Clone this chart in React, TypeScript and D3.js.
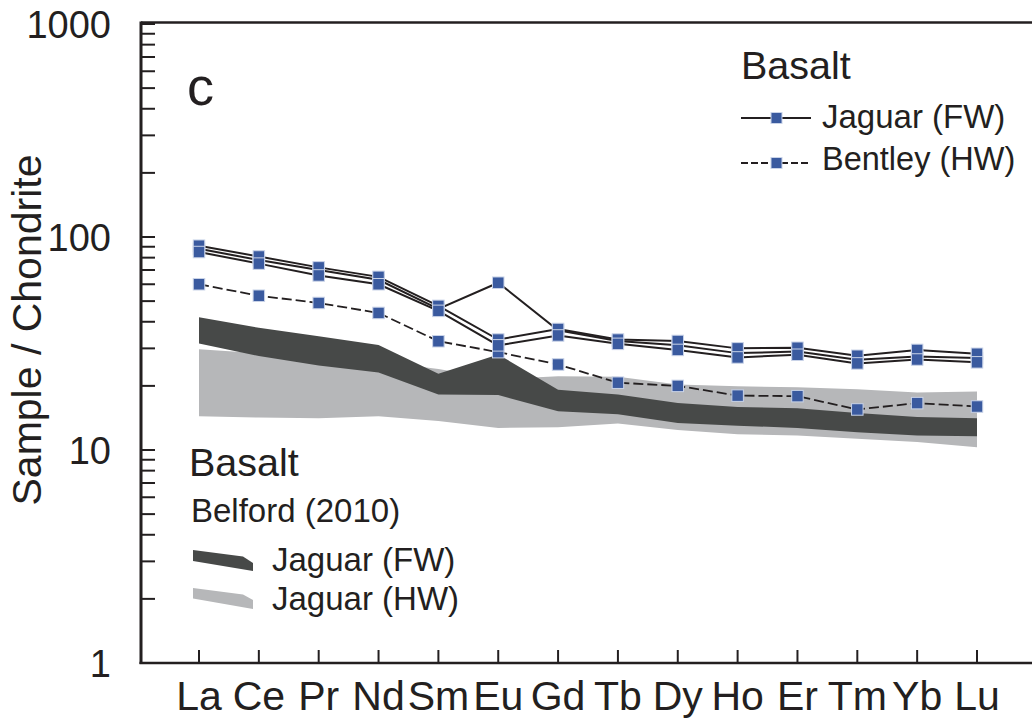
import React from "react";
import * as d3 from "d3";

// Rare earth elements along the x axis
const elements = ["La", "Ce", "Pr", "Nd", "Sm", "Eu", "Gd", "Tb", "Dy", "Ho", "Er", "Tm", "Yb", "Lu"];

// Chondrite-normalised basalt samples, Jaguar footwall (three samples)
const jaguarFW1 = [88, 78, 70, 63, 46, 61, 36.5, 32.5, 31, 28.5, 29, 26.5, 27.5, 27];
const jaguarFW2 = [91, 81, 72, 65, 47.5, 33, 37, 33, 32.5, 30, 30.2, 27.7, 29.5, 28.3];
const jaguarFW3 = [85, 75, 66, 60, 45, 31, 34.5, 31.5, 29.5, 27.2, 28, 25.5, 26.6, 25.8];

// Bentley hangingwall basalt
const bentleyHW = [60, 53, 49, 44, 32.4, 28.8, 25.2, 20.7, 20, 18, 17.9, 15.5, 16.6, 16];

// Belford (2010) envelopes
const belfordFWTop = [42, 37.5, 34.2, 31.1, 22.8, 28.1, 19.2, 18.2, 16.6, 15.9, 15.7, 14.9, 14.3, 14.1];
const belfordFWBottom = [31.6, 27.6, 24.9, 23.1, 18.2, 18.1, 15.2, 14.7, 13.4, 13.0, 12.7, 12.1, 11.7, 11.6];
const belfordHWTop = [29.7, 28.5, 27, 26, 24, 21.5, 22.2, 22.1, 20.3, 19.9, 19.7, 19.3, 18.6, 18.8];
const belfordHWBottom = [14.4, 14.2, 14.1, 14.4, 13.7, 12.7, 12.8, 13.3, 12.4, 11.85, 11.7, 11.3, 10.9, 10.3];

const yTicksMajor = [1, 10, 100, 1000];

const FONT = "'Liberation Sans', Arial, Helvetica, sans-serif";
const INK = "#231f20";
const MARK = "#3a5a9f";
const MARK_EDGE = "#c9d3e8";
const DARK = "#474948";
const LIGHT = "#b6b7b9";

const W = 1032;
const H = 720;

export default function App() {
  const x = d3.scalePoint<string>().domain(elements).range([199, 977]).padding(0);
  const y = d3.scaleLog().domain([1, 1000]).range([663, 24]);

  const band = (top: number[], bottom: number[]) =>
    d3
      .area<number>()
      .x((_, i) => x(elements[i]) as number)
      .y0((_, i) => y(bottom[i]))
      .y1((_, i) => y(top[i]))(top) as string;

  const line = (vals: number[]) =>
    d3
      .line<number>()
      .x((_, i) => x(elements[i]) as number)
      .y((v) => y(v))(vals) as string;

  // minor ticks for each decade
  const minorTicks: number[] = [];
  for (let dec = 1; dec < 1000; dec *= 10) {
    for (let k = 2; k <= 9; k++) minorTicks.push(dec * k);
  }

  const solidSeries = [jaguarFW1, jaguarFW2, jaguarFW3];
  const ms = 11.5;

  const markers = (vals: number[], key: string) =>
    vals.map((v, i) => (
      <rect
        key={key + i}
        x={(x(elements[i]) as number) - ms / 2}
        y={y(v) - ms / 2}
        width={ms}
        height={ms}
        fill={MARK}
        stroke={MARK_EDGE}
        strokeWidth={1}
      />
    ));

  const left = 141;
  const bottom = 663;

  return (
    <div style={{ position: "absolute", left: 0, top: 0 }}>
      <svg width={W} height={H} style={{ display: "block", background: "#fff" }} fontFamily={FONT}>
        {/* envelopes */}
        <path d={band(belfordHWTop, belfordHWBottom)} fill={LIGHT} />
        <path d={band(belfordFWTop, belfordFWBottom)} fill={DARK} />

        {/* sample lines */}
        <path d={line(bentleyHW)} fill="none" stroke={INK} strokeWidth={1.8} strokeDasharray="10,4" />
        {solidSeries.map((s, k) => (
          <path key={"l" + k} d={line(s)} fill="none" stroke={INK} strokeWidth={2} />
        ))}
        {markers(bentleyHW, "b")}
        {solidSeries.map((s, k) => markers(s, "s" + k))}

        {/* frame */}
        <line x1={left} x2={W} y1={22.5} y2={22.5} stroke={INK} strokeWidth={2.5} />
        <line x1={left} x2={left} y1={21.5} y2={bottom + 1} stroke={INK} strokeWidth={3} />
        <line x1={left - 1.5} x2={W} y1={bottom} y2={bottom} stroke={INK} strokeWidth={2.5} />

        {/* y ticks */}
        {yTicksMajor.concat(minorTicks).map((t) => (
          <line key={"yt" + t} x1={left} x2={left + 14} y1={y(t)} y2={y(t)} stroke={INK} strokeWidth={2} />
        ))}
        {yTicksMajor.map((t) => (
          <text key={"yl" + t} x={111} y={y(t)} dy="0.36em" textAnchor="end" fontSize={38} fill={INK}>
            {t}
          </text>
        ))}

        {/* x ticks */}
        {elements.map((e) => (
          <g key={"xt" + e}>
            <line x1={x(e)} x2={x(e)} y1={bottom} y2={bottom - 13} stroke={INK} strokeWidth={2} />
            <text x={x(e)} y={710} textAnchor="middle" fontSize={41} fill={INK}>
              {e}
            </text>
          </g>
        ))}

        {/* axis title */}
        <text transform="translate(41,330) rotate(-90)" textAnchor="middle" fontSize={41} fill={INK}>
          Sample / Chondrite
        </text>

        {/* panel letter */}
        <text x={187} y={105} fontSize={54} fill={INK}>
          c
        </text>

        {/* sample legend */}
        <g>
          <text x={741} y={79} fontSize={39.5} fill={INK}>
            Basalt
          </text>
          <line x1={741} x2={811} y1={118} y2={118} stroke={INK} strokeWidth={1.8} />
          <rect x={776.5 - 5.5} y={112.5} width={11} height={11} fill={MARK} stroke={MARK_EDGE} strokeWidth={1} />
          <text x={822} y={128} fontSize={33} fill={INK}>
            Jaguar (FW)
          </text>
          <line x1={741} x2={811} y1={163} y2={163} stroke={INK} strokeWidth={1.8} strokeDasharray="7,3" />
          <rect x={776.5 - 5.5} y={157.5} width={11} height={11} fill={MARK} stroke={MARK_EDGE} strokeWidth={1} />
          <text x={822} y={170} fontSize={32.5} fill={INK}>
            Bentley (HW)
          </text>
        </g>

        {/* envelope legend */}
        <g>
          <text x={189} y={476} fontSize={39.5} fill={INK}>
            Basalt
          </text>
          <text x={191} y={522} fontSize={33} fill={INK}>
            Belford (2010)
          </text>
          <path d="M193,550 L243,556.5 L253,563 L253,571 L193,561 Z" fill={DARK} />
          <text x={272} y={571} fontSize={33} fill={INK}>
            Jaguar (FW)
          </text>
          <path d="M193,588 L243,594.5 L253,600 L253,609 L193,598.5 Z" fill={LIGHT} />
          <text x={272} y={610} fontSize={33} fill={INK}>
            Jaguar (HW)
          </text>
        </g>
      </svg>
    </div>
  );
}
